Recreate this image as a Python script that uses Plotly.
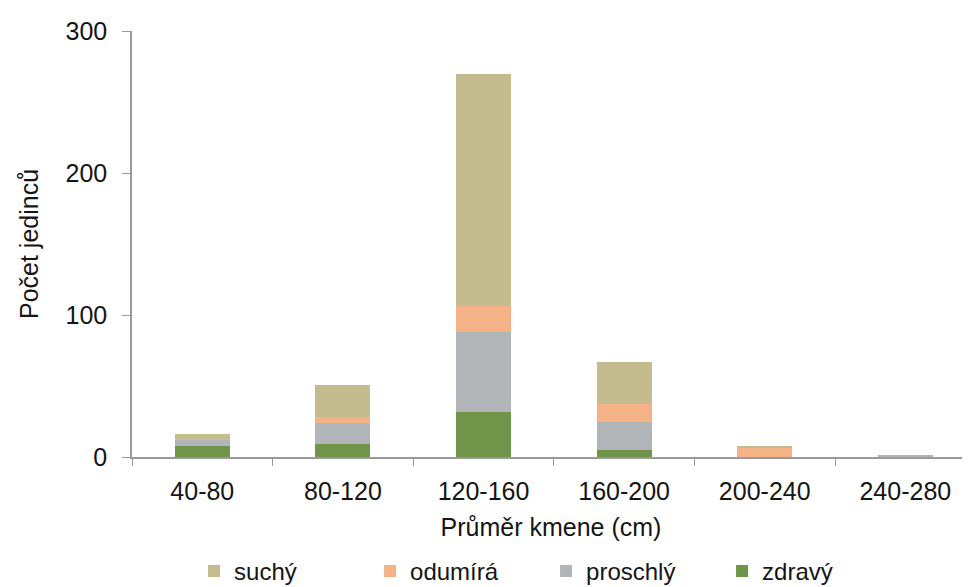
import plotly.graph_objects as go

categories = ["40-80", "80-120", "120-160", "160-200", "200-240", "240-280"]
zdravy = [8, 9, 32, 5, 0, 0]
proschly = [4, 15, 56, 20, 0, 1]
odumira = [1, 4, 18, 12, 7, 0]
suchy = [3, 23, 164, 30, 1, 0]

series = [
    ("zdravý", zdravy, "#70954a"),
    ("proschlý", proschly, "#b1b5b8"),
    ("odumírá", odumira, "#f6b287"),
    ("suchý", suchy, "#c4bc8e"),
]

fig = go.Figure()
for name, vals, col in series:
    fig.add_trace(go.Bar(x=categories, y=vals, name=name,
                         marker=dict(color=col, line=dict(width=0))))

font = dict(family="Liberation Sans, Arial, sans-serif", size=25, color="#151515")

# page body has an 8px default margin, so the figure is sized to fill the window from (8,8)
fig.update_layout(
    barmode="stack",
    bargap=0.61,
    width=962, height=579,
    margin=dict(l=124, r=0, t=23, b=130),
    paper_bgcolor="white", plot_bgcolor="white",
    font=font,
    showlegend=True,
    legend=dict(orientation="h", traceorder="reversed",
                xref="container", yref="container",
                x=0.1934, xanchor="left", y=0.027, yanchor="middle",
                entrywidth=131, entrywidthmode="pixels",
                font=dict(size=24), bgcolor="rgba(0,0,0,0)"),
    xaxis=dict(range=[-0.5, 5.46], showline=True, linecolor="#9a9a9a", linewidth=1.5,
               ticks="outside", tickson="boundaries", ticklen=7, tickcolor="#9a9a9a",
               ticklabelstandoff=11, automargin=False,
               title=dict(text="Průměr kmene (cm)", standoff=15, font=dict(size=25)),
               showgrid=False, zeroline=False),
    yaxis=dict(range=[0, 300], tickvals=[0, 100, 200, 300], showline=True,
               linecolor="#9a9a9a", linewidth=1.5, ticks="outside", ticklen=8,
               tickcolor="#9a9a9a", ticklabelstandoff=10, automargin=False,
               title=dict(text="Počet jedinců", standoff=20, font=dict(size=25)),
               showgrid=False, zeroline=False),
)

fig.write_html("out.html")
